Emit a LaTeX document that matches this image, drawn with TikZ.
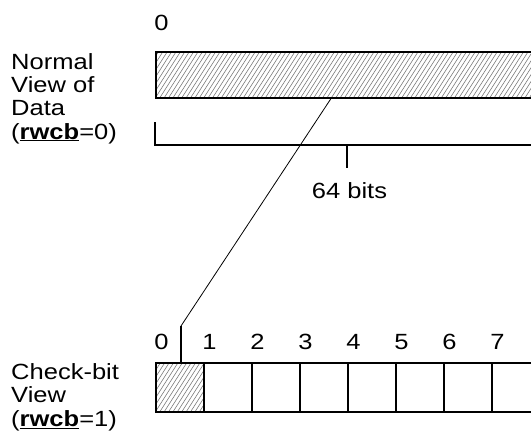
\documentclass[tikz,border=0pt]{standalone}
\usepackage{fontspec}
\setmainfont{Liberation Sans}[FakeStretch=1.16]
\begin{document}
\begin{tikzpicture}[x=1pt,y=-1pt,
  lbl/.style={font=\fontsize{22}{23.3}\selectfont, inner sep=0pt},
  thick line/.style={line width=1.6pt},
  cell/.style={draw, line width=1.6pt, minimum width=48pt, minimum height=49pt, inner sep=0pt, anchor=north west},
  hatchline/.style={draw=black!55, line width=0.55pt},
  hatched/.style={path picture={
    \foreach \i in {-40,-35.6,...,400}{
      \draw[hatchline] ([xshift=\i pt]path picture bounding box.south west) -- ++(32pt,50pt);}}},
]
\clip (0,0) rectangle (531,442);
\fill[white] (0,0) rectangle (531,442);

% top labels
\node[lbl, anchor=base] (zero) at (161.5,30) {0};
\node[lbl, anchor=north west, align=left] (normal) at (11,53)
  {Normal\\View of\\Data\\(\underline{\textbf{rwcb}}=0)};

% data bar
\node[draw, thick line, hatched, minimum width=390pt, minimum height=46pt,
      inner sep=0pt, anchor=north west] (data) at (155,51) {};

% measurement
\coordinate (lt) at (155,122);
\coordinate (m0) at (155,145);
\coordinate (mend) at (545,145);
\coordinate (mid) at (347,145);
\coordinate (midb) at (347,168);
\draw[thick line] (lt) -- (m0) -- (mend);
\draw[thick line] (mid) -- (midb);
\node[lbl, anchor=base] (bits) at (349.5,198) {64 bits};

% check-bit view
\foreach \i in {0,...,7}{
  \node[cell] (c\i) at ({155+48*\i},362) {};
  \node[lbl, anchor=base] (n\i) at ({161.5+48*\i},349) {\i};
}
\node[cell, hatched] (c0h) at (155,362) {};
\node[cell] (c8) at (539,362) {};
\node[lbl, anchor=north west, align=left] (check) at (11,363.5)
  {Check-bit\\View\\(\underline{\textbf{rwcb}}=1)};

% connector
\coordinate (dtop) at (332,97);
\coordinate (tk) at (181,326);
\draw[line width=0.8pt] (dtop) -- (tk);
\draw[line width=1.2pt] (tk) -- (tk |- c0h.north);
\end{tikzpicture}
\end{document}
